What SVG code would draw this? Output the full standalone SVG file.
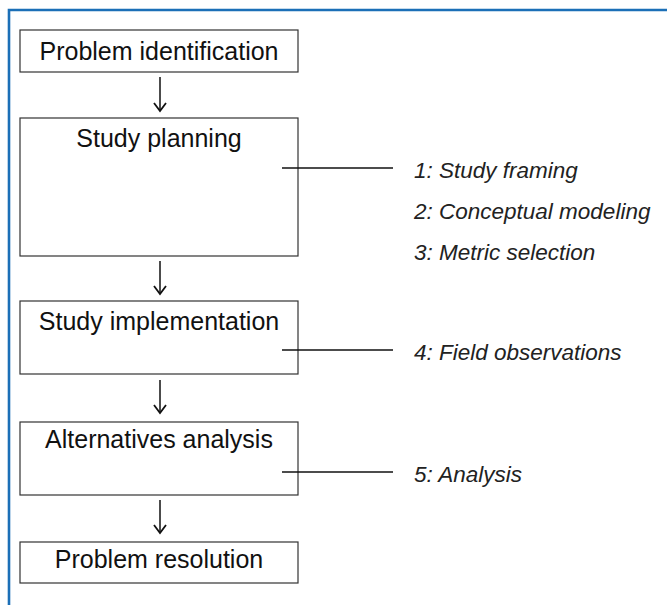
<svg xmlns="http://www.w3.org/2000/svg" width="667" height="605" viewBox="0 0 667 605">
<style>
.box{fill:#fff;stroke:#333;stroke-width:1.2}
.t{font-family:"Liberation Sans",Arial,sans-serif;font-size:25px;fill:#111;text-anchor:middle}
.l{font-family:"Liberation Sans",Arial,sans-serif;font-size:22.5px;font-style:italic;fill:#222}
.c{stroke:#111;stroke-width:1.5;fill:none}
.ah{stroke:#111;stroke-width:1.8;fill:none}
</style>
<rect width="667" height="605" fill="#fff"/>
<path d="M9,605 V10 H667" fill="none" stroke="#1b6fb7" stroke-width="2.6"/>
<g id="n1"><rect class="box" x="20" y="30" width="278" height="42"/><text class="t" x="159" y="60">Problem identification</text></g>
<g id="n2"><rect class="box" x="20" y="118" width="278" height="138"/><text class="t" x="159" y="147">Study planning</text></g>
<g id="n3"><rect class="box" x="20" y="301" width="278" height="73"/><text class="t" x="159" y="330">Study implementation</text></g>
<g id="n4"><rect class="box" x="20" y="422" width="278" height="73"/><text class="t" x="159" y="448">Alternatives analysis</text></g>
<g id="n5"><rect class="box" x="20" y="542" width="278" height="41"/><text class="t" x="159" y="568">Problem resolution</text></g>
<g id="labels">
<text class="l" x="414" y="178">1: Study framing</text>
<text class="l" x="414" y="219">2: Conceptual modeling</text>
<text class="l" x="414" y="260">3: Metric selection</text>
<text class="l" x="414" y="360">4: Field observations</text>
<text class="l" x="414" y="482">5: Analysis</text>
</g>
<g id="connectors">
<line class="c" x1="160" y1="77" x2="160" y2="111"/><path class="ah" d="M154,103 L160,111 L166,103"/>
<line class="c" x1="160" y1="261" x2="160" y2="294"/><path class="ah" d="M154,286 L160,294 L166,286"/>
<line class="c" x1="160" y1="380" x2="160" y2="413"/><path class="ah" d="M154,405 L160,413 L166,405"/>
<line class="c" x1="160" y1="500" x2="160" y2="533"/><path class="ah" d="M154,525 L160,533 L166,525"/>
<line class="c" x1="282" y1="168" x2="393" y2="168"/>
<line class="c" x1="282" y1="350" x2="393" y2="350"/>
<line class="c" x1="282" y1="472" x2="393" y2="472"/>
</g>
</svg>
